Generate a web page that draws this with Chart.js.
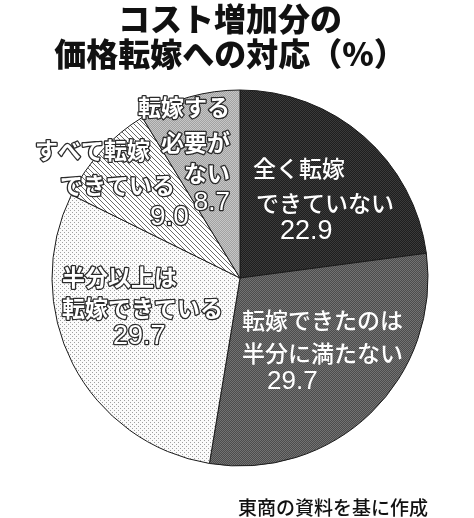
<!DOCTYPE html>
<html lang="ja">
<head>
<meta charset="utf-8">
<script src="https://cdn.jsdelivr.net/npm/chart.js@4/dist/chart.umd.min.js"></script>
<style>
  html, body { margin: 0; padding: 0; background: #ffffff; }
  #wrap { position: relative; width: 474px; height: 518px; }
  canvas { display: block; }
</style>
</head>
<body>
<div id="wrap"><canvas id="pie" width="474" height="518"></canvas></div>
<script>
// Survey categories, clockwise from 12 o'clock
const categories = [
  '全く転嫁できていない',
  '転嫁できたのは半分に満たない',
  '半分以上は転嫁できている',
  'すべて転嫁できている',
  '転嫁する必要がない'
];
// Line breaks used for the in-slice labels
const categoryLines = [
  ['全く転嫁', 'できていない'],
  ['転嫁できたのは', '半分に満たない'],
  ['半分以上は', '転嫁できている'],
  ['すべて転嫁', 'できている'],
  ['転嫁する', '必要が', 'ない']
];
// Share of companies (%)
const shares = [22.9, 29.7, 29.7, 9.0, 8.7];

const titleLines = ['コスト増加分の', '価格転嫁への対応（%）'];
const sourceNote = '東商の資料を基に作成';

const JP = '"Noto Sans CJK JP", "Noto Sans", sans-serif';
const NUM = '"Liberation Sans", Arial, sans-serif';

// ---- screen-tone fills -------------------------------------------------
function tile(w, h, paint) {
  const c = document.createElement('canvas');
  c.width = w; c.height = h;
  const g = c.getContext('2d');
  paint(g);
  return document.createElement('canvas').getContext('2d').createPattern(c, 'repeat');
}
function checker(base, dot) {
  return tile(2, 2, g => {
    g.fillStyle = base; g.fillRect(0, 0, 2, 2);
    g.fillStyle = dot; g.fillRect(0, 0, 1, 1); g.fillRect(1, 1, 1, 1);
  });
}
const fills = [
  checker('#1e1e1e', '#3a3a3a'),            // black tone
  checker('#4c4c4c', '#727272'),            // dark grey tone
  tile(4, 4, g => {                          // sparse dots
    g.fillStyle = '#fbfbfb'; g.fillRect(0, 0, 4, 4);
    g.fillStyle = '#a0a0a0'; g.fillRect(0, 0, 1, 1); g.fillRect(2, 2, 1, 1);
  }),
  tile(5, 5, g => {                          // diagonal hatching
    g.fillStyle = '#ffffff'; g.fillRect(0, 0, 5, 5);
    g.fillStyle = '#6a6a6a';
    for (let i = 0; i < 5; i++) g.fillRect(i, i, 1, 1);
  }),
  checker('#a2a2a2', '#c6c6c6')             // light grey tone
];

// Text placement inside each slice, offsets from the pie centre (px)
const labelLayouts = [
  { outline: false, align: 'left',  pos: [[13, -110], [16, -75]], num: [40, -46], numSize: 27 },
  { outline: false, align: 'left',  pos: [[2, 42], [2, 75]],      num: [27, 104], numSize: 26 },
  { outline: true,  align: 'left',  pos: [[-178, -1], [-178, 30]], num: [-127, 59], numSize: 27 },
  { outline: true,  align: 'left',  pos: [[-205, -128], [-180, -93]], num: [-90, -61], numSize: 28 },
  { outline: true,  align: 'right', pos: [[-10, -171], [-10, -136], [-10, -105]], num: [-10, -75], numSize: 26 }
];

function drawText(ctx, text, x, y, font, outline, align) {
  ctx.font = font;
  ctx.textAlign = align;
  ctx.textBaseline = 'middle';
  if (outline) {
    ctx.lineJoin = 'round';
    ctx.strokeStyle = '#2a2a2a';
    ctx.lineWidth = 2.6;
    ctx.strokeText(text, x, y);
  }
  ctx.fillStyle = '#ffffff';
  ctx.fillText(text, x, y);
}

const sliceLabels = {
  id: 'sliceLabels',
  afterDatasetsDraw(chart) {
    const ctx = chart.ctx;
    const arcs = chart.getDatasetMeta(0).data;
    const cx = arcs[0].x, cy = arcs[0].y;
    ctx.save();
    labelLayouts.forEach((lay, i) => {
      const weight = lay.outline ? 'bold' : '500';
      categoryLines[i].forEach((line, j) => {
        const [dx, dy] = lay.pos[j];
        drawText(ctx, line, cx + dx, cy + dy, `${weight} 23px ${JP}`, lay.outline, lay.align);
      });
      const value = chart.data.datasets[0].data[i].toFixed(1);
      drawText(ctx, value, cx + lay.num[0], cy + lay.num[1],
        `${lay.numSize}px ${NUM}`, lay.outline, lay.align);
    });
    ctx.restore();
  }
};

const headings = {
  id: 'headings',
  afterDraw(chart) {
    const ctx = chart.ctx;
    ctx.save();
    ctx.fillStyle = '#111111';
    ctx.textBaseline = 'middle';
    ctx.textAlign = 'center';
    ctx.font = `900 32px ${JP}`;
    ctx.fillText(titleLines[0], 230, 19);
    ctx.fillText(titleLines[1], 230, 54);
    ctx.textAlign = 'right';
    ctx.font = `500 19px ${JP}`;
    ctx.fillText(sourceNote, 428, 508);
    ctx.restore();
  }
};

new Chart(document.getElementById('pie'), {
  type: 'pie',
  data: {
    labels: categories,
    datasets: [{
      data: shares,
      backgroundColor: fills,
      borderColor: '#1a1a1a',
      borderWidth: 1
    }]
  },
  options: {
    responsive: false,
    animation: false,
    radius: 188,
    layout: { padding: { left: 52, right: 46, top: 90, bottom: 52 } },
    plugins: {
      legend: { display: false },
      tooltip: { enabled: false },
      title: { display: false }
    }
  },
  plugins: [sliceLabels, headings]
});
</script>
</body>
</html>
